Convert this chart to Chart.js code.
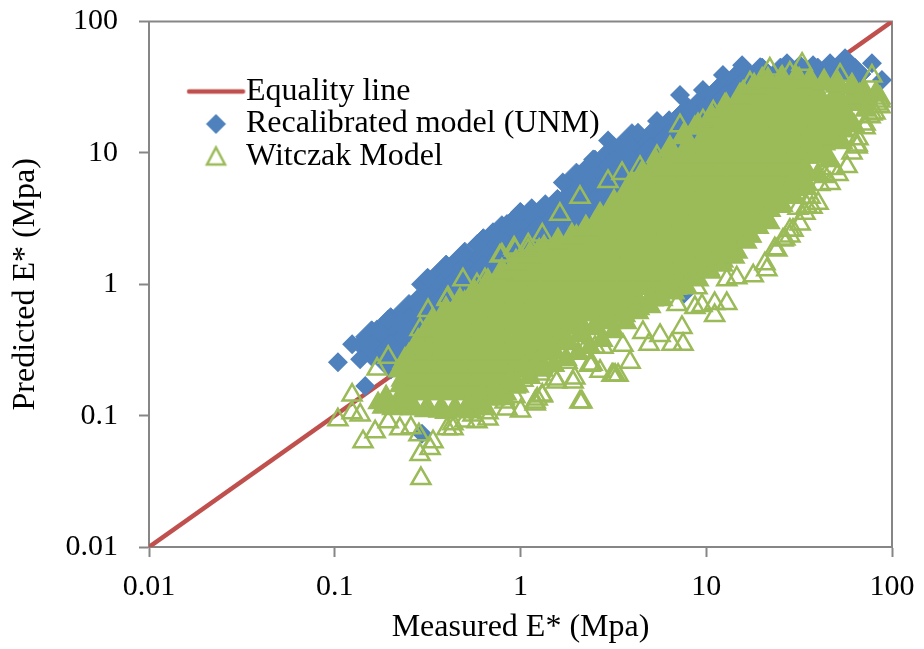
<!DOCTYPE html>
<html>
<head>
<meta charset="utf-8">
<title>Predicted vs measured E*</title>
<script src="https://cdn.jsdelivr.net/npm/chart.js@4"></script>
<style>
  html, body { margin: 0; padding: 0; background: #fff; }
  canvas { display: block; }
</style>
</head>
<body>
<canvas id="chart" width="924" height="649"></canvas>
<script>
const axisTicks = [0.01, 0.1, 1, 10, 100];
const equalityLine = [[0.01, 0.01], [100, 100]];

// Recalibrated model: outline points
const unmOutline = [
  [0.104,0.255],[0.124,0.349],[0.142,0.367],[0.137,0.269],[0.169,0.453],[0.194,0.539],[0.23,0.503],
  [0.277,0.764],[0.318,1.1],[0.392,1.29],[0.49,1.67],[0.583,2.02],[0.711,2.49],[0.846,2.87],[0.994,3.53],
  [1.15,3.79],[1.36,4.06],[1.69,5.96],[2.04,6.85],[2.46,8.89],[2.96,12.4],[3.52,11.3],[4.29,14.2],
  [5.43,17.5],[7.22,27.6],[8.18,20.9],[9.6,30.1],[12.3,39.1],[15.6,46.5],[19.5,44.9],[27.2,48.1],
  [32,46.5],[37.6,46.5],[46.4,48.1],[55.9,52.5],[78,48.1],[88.3,35.8],[0.146,0.168],[0.295,0.0728],[7.59,0.847]
];
// Recalibrated model: solid part of the cloud, by column
const unmDenseX = [0.158,0.2,0.251,0.316,0.398,0.501,0.631,0.794,1,1.26,1.58,2,2.51,3.16,3.98,5.01,6.31,7.94,10,12.6,15.8,20,25.1,31.6,39.8,50.1,63.1];
const unmDenseY = [
  [0.398,0.316],[0.501,0.398,0.316,0.251],[0.631,0.501,0.398,0.316],[1,0.794,0.631,0.501],
  [1.26,1,0.794,0.631],[1.58,1.26,1],[2,1.58,1.26,1],[2.51,2,1.58,1.26],[3.16,2.51,2,1.58],
  [3.16,2.51,2],[3.98,3.16,2.51],[6.31,5.01,3.98,3.16],[7.94,6.31,5.01,3.98],[10,7.94,6.31,5.01],
  [12.6,10,7.94,6.31],[12.6,10,7.94],[15.8,12.6,10],[20,15.8,12.6],[25.1,20,15.8],[31.6,25.1,20],
  [39.8,31.6,25.1],[39.8,31.6],[39.8,31.6],[39.8,31.6],[39.8],[39.8],[39.8]
];

// Witczak model: solid part of the cloud, by column
const witczakDenseX = [0.251,0.316,0.398,0.501,0.631,0.794,1,1.26,1.58,2,2.51,3.16,3.98,5.01,6.31,7.94,10,12.6,15.8,20,25.1,31.6,39.8,50.1,63.1];
const witczakDenseY = [
  [0.158,0.2,0.251],
  [0.158,0.2,0.251,0.316,0.398],
  [0.158,0.2,0.251,0.316,0.398,0.501],
  [0.158,0.2,0.251,0.316,0.398,0.501,0.631],
  [0.158,0.2,0.251,0.316,0.398,0.501,0.631,0.794],
  [0.2,0.251,0.316,0.398,0.501,0.631,0.794,1],
  [0.251,0.316,0.398,0.501,0.631,0.794,1,1.26],
  [0.316,0.398,0.501,0.631,0.794,1,1.26,1.58],
  [0.398,0.501,0.631,0.794,1,1.26,1.58],
  [0.501,0.631,0.794,1,1.26,1.58,2],
  [0.631,0.794,1,1.26,1.58,2,2.51],
  [0.631,0.794,1,1.26,1.58,2,2.51,3.16],
  [0.794,1,1.26,1.58,2,2.51,3.16,3.98,5.01],
  [1,1.26,1.58,2,2.51,3.16,3.98,5.01,6.31],
  [1,1.26,1.58,2,2.51,3.16,3.98,5.01,6.31,7.94],
  [1.26,1.58,2,2.51,3.16,3.98,5.01,6.31,7.94,10],
  [1.58,2,2.51,3.16,3.98,5.01,6.31,7.94,10,12.6],
  [2,2.51,3.16,3.98,5.01,6.31,7.94,10,12.6,15.8,20],
  [2.51,3.16,3.98,5.01,6.31,7.94,10,12.6,15.8,20,25.1],
  [3.16,3.98,5.01,6.31,7.94,10,12.6,15.8,20,25.1,31.6],
  [5.01,6.31,7.94,10,12.6,15.8,20,25.1,31.6],
  [6.31,7.94,10,12.6,15.8,20,25.1,31.6],
  [10,12.6,15.8,20,25.1],
  [15.8,20,25.1],
  [25.1]
];
// Witczak model: upper and lower rim of the solid part
const witczakUpperRim = [
  [0.239,0.259],[0.281,0.361],[0.334,0.512],[0.397,0.631],[0.472,0.738],[0.562,0.863],[0.668,1.03],[0.794,1.24],
  [0.946,1.45],[1.12,1.64],[1.34,1.86],[1.59,2.1],[1.89,2.29],[2.25,2.63],[2.68,3.3],[3.19,4.13],[3.79,5.27],
  [4.51,6.85],[5.37,8.3],[6.38,10.6],[7.59,13.3],[9.03,15.8],[10.7,18.5],[12.8,22.4],[15.2,26.6],[18.1,31.7],
  [21.5,35.2],[25.6,36.4],[30.4,36.4],[36.2,35.2],[43.1,34],[51.2,32.8],[60.9,31.7],[70.6,29]
];
const witczakLowerRim = [
  [0.186,0.1185],[0.222,0.1164],[0.264,0.1146],[0.314,0.1125],[0.373,0.1105],[0.444,0.1105],[0.528,0.1205],
  [0.628,0.141],[0.747,0.162],[0.889,0.186],[1.06,0.222],[1.26,0.259],[1.5,0.309],[1.78,0.361],[2.12,0.415],
  [2.52,0.469],[2.99,0.52],[3.56,0.588],[4.24,0.664],[5.04,0.777],[6,0.893],[7.13,1.01],[8.49,1.16],[10.1,1.33],
  [12,1.53],[14.3,1.79],[17,2.37],[20.2,3.02],[24,3.99],[28.6,5.37],[34,7.21],[40.5,9.7],[48.1,13],[57.3,18.8],[67.1,26.6]
];
// Witczak model: last filled triangles along the lower edge, read from the close-ups
const witczakLowerEdge = [
  [0.535,0.107],[0.621,0.1185],[0.72,0.134],[0.836,0.146],[0.97,0.168],[1.12,0.196],[1.31,0.222],[1.51,0.242],
  [1.76,0.269],[2.04,0.298],[2.37,0.331],[2.75,0.374],[3.19,0.437],[3.7,0.512],[4.29,0.609],[4.98,0.676],[5.78,0.764],
  [6.7,0.863],[7.78,0.957],[9.03,1.08],[10.5,1.24],[12.2,1.4],[14.1,1.61],[16.4,2.1],[19,2.72],[22,3.66],[25.6,3.99],
  [29.7,4.59],[34.4,5.37],[40,6.85],[46.4,8.73],[53.8,12],[62.4,16.1],[72.4,21.2],[82,28.6]
];
// Witczak model: filled in the left tip of the cloud
const witczakTip = [
  [0.171,0.125],[0.189,0.141],[0.203,0.1125],[0.224,0.168],[0.239,0.1185],[0.219,0.218],[0.248,0.259],
  [0.27,0.337],[0.306,0.437],[0.306,0.1086],[0.392,0.105],[0.502,0.1086],[0.644,0.1125],[0.826,0.134]
];
// Witczak model: separate triangles around the cloud
const witczakScatter = [
  [0.291,0.0332],[0.142,0.0633],[0.104,0.0929],[0.124,0.1435],[2.09,0.127],[2.14,0.127],[3.23,0.203],[2.43,0.246],
  [1.2,0.127],[1.23,0.134],[0.288,0.0505],[0.326,0.0561],[0.284,0.0714],[0.338,0.0633],[0.433,0.0794],[0.402,0.0794],
  [0.668,0.0944],[0.583,0.0897],[0.846,0.1125],[1.31,0.1435],[1.57,0.18],[1.92,0.18],[0.194,0.0897],[0.165,0.0753],
  [0.137,0.1013],[0.124,0.105],[0.224,0.0794],[0.257,0.0807],[0.502,0.0912],[1,0.1086],[2.68,0.218],
  [12.9,0.713],[11.1,0.713],[11.1,0.578],[9.49,0.688],[8.69,0.664],[7.5,0.349],[6.54,0.349],[5.64,0.408],[4.92,0.349],
  [7.4,0.469],[4.56,0.43],[3.89,0.255],[3.56,0.343],[3.15,0.203],[3.35,0.203],[2.37,0.246],[21.2,1.29],[17.9,1.16],
  [14.6,1.12],[12.9,1.08],[24,1.82],[28.2,2.58],[25.9,2.17],[8.91,0.94],[6.96,0.7],
  [28.2,2.33],[32,2.87],[34,3.47],[37.1,3.85],[40,4.13],[46.4,5.85],[51.2,6.85],[57.3,7.87],[60.9,10],[64.9,11.1],
  [71.6,15.5],[76.2,18.8],[81,20.1],[86.1,22.4],[86.1,24.8],[82,27.6],
  [0.194,0.278],[0.169,0.226],[0.318,0.631],[0.288,0.453],[0.49,1.08],[0.402,0.764],[0.583,0.99],[0.776,1.64],
  [0.934,1.82],[1.31,2.37],[1.1,1.82],[2.96,6.06],[3.52,6.97],[5.43,9.37],[7.22,16.1],[10.9,20.5],[9.6,17.5],
  [15.8,28],[22,43.4],[32.8,47.3],[78,38.4],[28.2,40.5],[17.2,34],[52.5,39],[2.09,4.59],[1.63,3.41],[4.4,7.74],[8.69,15.5],
  [0.668,0.105],[0.555,0.1013],[0.433,0.0867],[0.826,0.127],[0.934,0.139],[1.2,0.1227],[1.31,0.141],[1.53,0.19],
  [1.96,0.193],[1.27,0.207],[2.37,0.242],[2.52,0.331],[3.11,0.203],[1.78,0.255],[1.03,0.186],[0.934,0.165],[2.17,0.303],
  [2.78,0.331],[64.9,11.5],[65.6,12.8],[71.6,16.6],[78,19.8],[83,23.6],[86.1,26.2],[40.9,5.75],[43.6,6.61],[48.1,7.6],
  [34.8,3.92],[31.2,3.79],[29.3,2.58],[26.5,2.21],[23.4,1.86],[20.7,1.43],[36.2,4.59],
  [0.407,0.79],[0.644,1.08],[0.794,1.67],[0.923,1.89],[1.1,1.99]
];

const BLUE = "#4f81bd";
const RED = "#c0504d";
const GREEN = "#9bbb59";
const AXIS = "#868686";
const FONT = "'Liberation Serif', 'Times New Roman', serif";

const toPoints = (pairs) => pairs.map(([x, y]) => ({ x, y }));
const columnsToPoints = (xs, ys) => xs.flatMap((x, i) => ys[i].map((y) => ({ x, y })));

// legend symbol on a small canvas, so the line can be wider than the markers.
// the canvas centre sits 7.5px left of the symbol: the legend box is narrower than the red line
function symbol(draw) {
  const c = document.createElement("canvas");
  c.width = 76;
  c.height = 24;
  const g = c.getContext("2d");
  g.translate(45.5, 12);
  draw(g);
  return c;
}
const lineSymbol = symbol((g) => {
  g.strokeStyle = RED; g.lineWidth = 4.5; g.lineCap = "round";
  g.beginPath(); g.moveTo(-27, 0); g.lineTo(27, 0); g.stroke();
});
const unmSymbol = symbol((g) => {
  g.fillStyle = BLUE;
  g.beginPath(); g.moveTo(0, -10); g.lineTo(10, 0); g.lineTo(0, 10); g.lineTo(-10, 0); g.closePath(); g.fill();
});
const witczakSymbol = symbol((g) => {
  g.strokeStyle = GREEN; g.lineWidth = 2.5;
  g.beginPath(); g.moveTo(0, -9); g.lineTo(9, 8); g.lineTo(-9, 8); g.closePath(); g.stroke();
});

const plotFrame = {
  id: "plotFrame",
  afterLayout(chart) {
    chart.legend.left = 186.5;
    chart.legend.top = 75;
  },
  beforeDatasetsDraw(chart) {
    const { ctx, chartArea: a } = chart;
    ctx.save();
    ctx.strokeStyle = AXIS;
    ctx.lineWidth = 2;
    ctx.strokeRect(a.left, a.top, a.right - a.left, a.bottom - a.top);
    ctx.restore();
  },
};

// the plot box has a fixed place, so labels must not push it around
const fixSize = (prop, size) => (scale) => {
  scale[prop] = size;
  scale.paddingTop = scale.paddingBottom = scale.paddingLeft = scale.paddingRight = 0;
};

const axis = (title, fit, tickPadding) => ({
  type: "logarithmic",
  min: 0.01,
  max: 100,
  afterBuildTicks: (scale) => { scale.ticks = axisTicks.map((value) => ({ value })); },
  afterFit: fit,
  border: { color: AXIS, width: 2 },
  grid: { drawOnChartArea: false, color: AXIS, tickColor: AXIS, tickLength: 10, tickWidth: 2 },
  ticks: {
    color: "#000",
    font: { family: FONT, size: 30 },
    padding: tickPadding,
    autoSkip: false,
    maxRotation: 0,
    callback: (value) => String(value),
  },
  title: { display: true, text: title, color: "#000", font: { family: FONT, size: 32 }, padding: { top: 6, bottom: 2 } },
});

// a thin border of the same colour closes the seams between overlapping marks
const solidTriangles = (label, data, pointRadius, order) => ({
  label, data, pointRadius, order,
  pointStyle: "triangle",
  backgroundColor: GREEN,
  borderColor: GREEN,
  borderWidth: 1.5,
});

new Chart(document.getElementById("chart"), {
  type: "scatter",
  data: {
    datasets: [
      {
        label: "Equality line",
        data: toPoints(equalityLine),
        showLine: true,
        borderColor: RED,
        borderWidth: 4.5,
        pointRadius: 0,
        order: 8,
      },
      {
        label: "Recalibrated model (UNM)",
        data: columnsToPoints(unmDenseX, unmDenseY),
        pointStyle: "rectRot",
        pointRadius: 16,
        backgroundColor: BLUE,
        borderColor: BLUE,
        borderWidth: 1,
        order: 7,
      },
      {
        label: "Recalibrated model (UNM) outline",
        data: toPoints(unmOutline),
        pointStyle: "rectRot",
        pointRadius: 10,
        backgroundColor: BLUE,
        borderWidth: 0,
        order: 6,
      },
      solidTriangles("Witczak Model", columnsToPoints(witczakDenseX, witczakDenseY), 20, 5),
      solidTriangles("Witczak Model rim", toPoints(witczakUpperRim.concat(witczakLowerRim)), 14, 4),
      solidTriangles("Witczak Model lower edge", toPoints(witczakLowerEdge), 12, 3),
      solidTriangles("Witczak Model tip", toPoints(witczakTip), 11, 2),
      {
        label: "Witczak Model scatter",
        data: toPoints(witczakScatter),
        pointStyle: "triangle",
        pointRadius: 11,
        backgroundColor: "rgba(0,0,0,0)",
        borderColor: GREEN,
        borderWidth: 2.5,
        order: 1,
      },
    ],
  },
  plugins: [plotFrame],
  options: {
    responsive: false,
    animation: false,
    events: [],
    layout: { padding: { top: 18, right: 32 } },
    scales: {
      x: axis("Measured E* (Mpa)", fixSize("height", 102), 12),
      y: axis("Predicted E* (Mpa)", fixSize("width", 149), 21),
    },
    plugins: {
      tooltip: { enabled: false },
      legend: {
        position: "chartArea",
        align: "start",
        labels: {
          color: "#000",
          font: { family: FONT, size: 32 },
          usePointStyle: true,
          pointStyleWidth: 43,
          padding: 0.5,
          generateLabels: () => [
            { text: "Equality line", pointStyle: lineSymbol, datasetIndex: 0, lineWidth: 0 },
            { text: "Recalibrated model (UNM)", pointStyle: unmSymbol, datasetIndex: 1, lineWidth: 0 },
            { text: "Witczak Model", pointStyle: witczakSymbol, datasetIndex: 3, lineWidth: 0 },
          ],
        },
      },
    },
  },
});
</script>
</body>
</html>
